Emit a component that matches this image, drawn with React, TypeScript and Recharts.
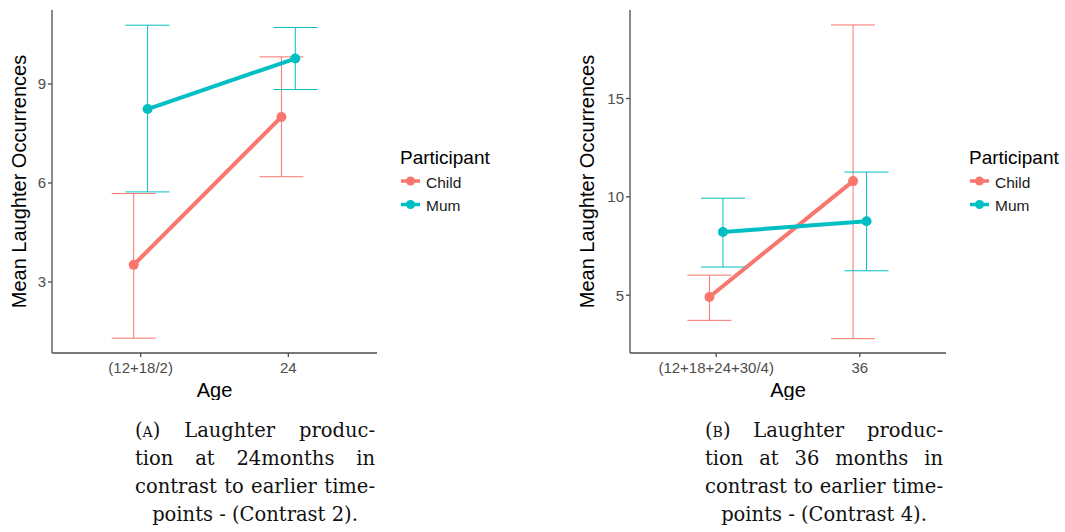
import React from "react";
import { LineChart, Line, XAxis, YAxis, ErrorBar } from "recharts";

// panel A: 24 months vs earlier
const agesA = ["(12+18/2)", "24"];
const childMeanA = [3.52, 8.0];
const childLowA = [1.3, 6.19];
const childHighA = [5.68, 9.82];
const mumMeanA = [8.24, 9.77];
const mumLowA = [5.73, 8.83];
const mumHighA = [10.78, 10.71];
const ticksA = [3, 6, 9];

// panel B: 36 months vs earlier
const agesB = ["(12+18+24+30/4)", "36"];
const childMeanB = [4.91, 10.8];
const childLowB = [3.72, 2.79];
const childHighB = [6.02, 18.74];
const mumMeanB = [8.21, 8.76];
const mumLowB = [6.43, 6.24];
const mumHighB = [9.93, 11.26];
const ticksB = [5, 10, 15];

const participants = ["Child", "Mum"];

const CHILD = "#F8766D";
const MUM = "#00BFC4";
const AXIS = "#4d4d4d";
const SANS = "Liberation Sans, Arial, sans-serif";
const DODGE = 0.047;

type Pt = { x: number; y: number; err: [number, number] };

const build = (mean: number[], lo: number[], hi: number[], shift: number): Pt[] =>
  mean.map((m, i) => ({ x: i + 1 + shift, y: m, err: [m - lo[i], hi[i] - m] }));

type PanelProps = {
  left: number;
  marginLeft: number;
  width: number;
  ages: string[];
  child: Pt[];
  mum: Pt[];
  domain: [number, number];
  ticks: number[];
  labelOffset: number;
};

const Panel: React.FC<PanelProps> = (p) => (
  <div style={{ position: "absolute", left: p.left, top: 0 }}>
    <LineChart width={p.width} height={400} margin={{ top: 10, right: 0, left: p.marginLeft, bottom: 0 }}>
      <XAxis
        type="number"
        dataKey="x"
        domain={[0.4, 2.6]}
        ticks={[1, 2]}
        tickFormatter={(v) => p.ages[Math.round(v) - 1]}
        height={47}
        tickSize={4}
        tickMargin={5}
        stroke={AXIS}
        strokeWidth={1.3}
        tick={{ fill: "#4d4d4d", fontSize: 15, fontFamily: SANS }}
        label={{
          value: "Age",
          position: "insideBottom",
          offset: 3,
          style: { fill: "#000", fontSize: 20, fontFamily: SANS },
        }}
      />
      <YAxis
        type="number"
        domain={p.domain}
        ticks={p.ticks}
        width={40}
        tickSize={4}
        tickMargin={2}
        stroke={AXIS}
        strokeWidth={1.3}
        tick={{ fill: "#4d4d4d", fontSize: 15, fontFamily: SANS }}
        label={{
          value: "Mean Laughter Occurrences",
          angle: -90,
          position: "insideLeft",
          offset: p.labelOffset,
          style: { textAnchor: "middle", fill: "#000", fontSize: 20, fontFamily: SANS },
        }}
      />
      <Line
        data={p.child}
        dataKey="y"
        name={participants[0]}
        stroke={CHILD}
        strokeWidth={4}
        dot={{ r: 5, fill: CHILD, stroke: CHILD, strokeWidth: 0 }}
        isAnimationActive={false}
      >
        <ErrorBar dataKey="err" width={22} stroke={CHILD} strokeWidth={1} direction="y" />
      </Line>
      <Line
        data={p.mum}
        dataKey="y"
        name={participants[1]}
        stroke={MUM}
        strokeWidth={4}
        dot={{ r: 5, fill: MUM, stroke: MUM, strokeWidth: 0 }}
        isAnimationActive={false}
      >
        <ErrorBar dataKey="err" width={22} stroke={MUM} strokeWidth={1} direction="y" />
      </Line>
    </LineChart>
  </div>
);

// legend drawn as a small svg next to each panel
const LegendBox: React.FC<{ left: number }> = ({ left }) => (
  <svg style={{ position: "absolute", left, top: 140 }} width={100} height={80}>
    <text x={0} y={24} fontSize={19} fontFamily={SANS} fill="#000">
      Participant
    </text>
    {participants.map((name, i) => {
      const color = i === 0 ? CHILD : MUM;
      const cy = 41 + i * 23.5;
      return (
        <g key={name}>
          <line x1={1} y1={cy} x2={20} y2={cy} stroke={color} strokeWidth={3.5} />
          <circle cx={10.5} cy={cy} r={4.5} fill={color} />
          <text x={26} y={cy + 6.5} fontSize={15.5} fontFamily={SANS} fill="#1a1a1a">
            {name}
          </text>
        </g>
      );
    })}
  </svg>
);

const capStyle: React.CSSProperties = {
  position: "absolute",
  top: 417,
  fontFamily: "DejaVu Serif, serif",
  fontSize: 19.5,
  lineHeight: "28px",
  color: "#111",
};

const justified: React.CSSProperties = { textAlign: "justify", textAlignLast: "justify", whiteSpace: "nowrap" };

const Caption: React.FC<{ left: number; width: number; letter: string; lines: string[]; last: string }> = ({
  left,
  width,
  letter,
  lines,
  last,
}) => (
  <div style={{ ...capStyle, left, width }}>
    <div style={justified}>
      (<span style={{ fontVariant: "small-caps" }}>{letter}</span>) {lines[0]}
    </div>
    <div style={justified}>{lines[1]}</div>
    <div style={justified}>{lines[2]}</div>
    <div style={{ textAlign: "center", whiteSpace: "nowrap" }}>{last}</div>
  </div>
);

export default function App() {
  return (
    <div style={{ position: "absolute", left: 0, top: 0, width: 1065, height: 532, background: "#fff" }}>
      <Panel
        left={0}
        marginLeft={12}
        width={377}
        ages={agesA}
        child={build(childMeanA, childLowA, childHighA, -DODGE)}
        mum={build(mumMeanA, mumLowA, mumHighA, DODGE)}
        domain={[0.85, 11.24]}
        ticks={ticksA}
        labelOffset={7}
      />
      <LegendBox left={400} />
      <Panel
        left={570}
        marginLeft={20}
        width={376}
        ages={agesB}
        child={build(childMeanB, childLowB, childHighB, -DODGE)}
        mum={build(mumMeanB, mumLowB, mumHighB, DODGE)}
        domain={[2.06, 19.5]}
        ticks={ticksB}
        labelOffset={-3}
      />
      <LegendBox left={969} />
      <Caption
        left={135}
        width={240}
        letter="a"
        lines={["Laughter produc-", "tion at 24months in", "contrast to earlier time-"]}
        last="points - (Contrast 2)."
      />
      <Caption
        left={705}
        width={238}
        letter="b"
        lines={["Laughter produc-", "tion at 36 months in", "contrast to earlier time-"]}
        last="points - (Contrast 4)."
      />
    </div>
  );
}
